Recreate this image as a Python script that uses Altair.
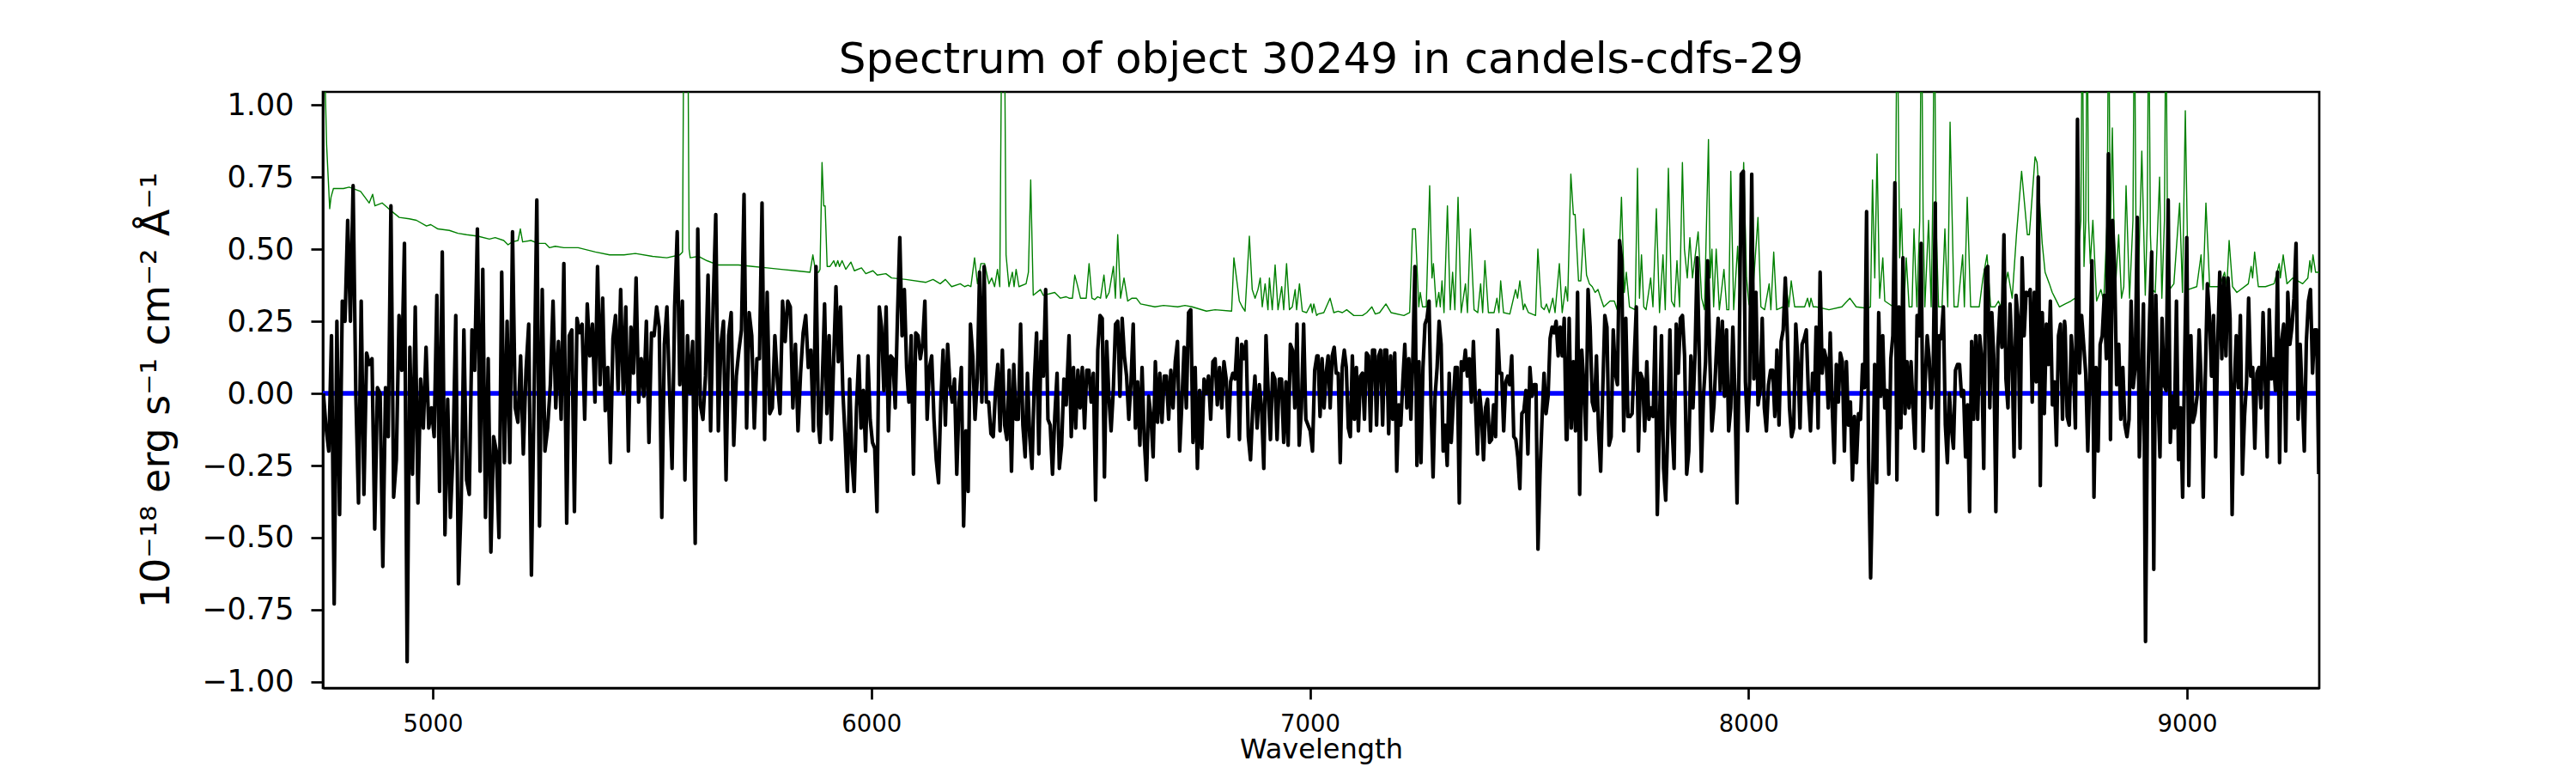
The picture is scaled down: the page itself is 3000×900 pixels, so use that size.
import numpy as np
import pandas as pd
import altair as alt

# ---------------- data ----------------
# Observed flux (black), 1e-18 erg/s/cm2/A, in hundredths, per wavelength segment
seg_ranges = [(4750.6, 5298.9), (5305.4, 5879.7), (5883.0, 6444.3), (6450.8, 7016.0),
              (7018.6, 7584.5), (7586.4, 8151.0), (8154.2, 8720.7), (8722.0, 9300.3)]

flux_s1 = [0,-12,-20,20,-73,25,-42,32,25,60, 25,72,0,-38,32,-35,14,10,12,-47,
           2,0,-60,2,-15,65,-36,-23,27,8, 52,-93,16,-28,30,-38,5,-12,16,-12,
           -5,-15,34,-34,49,-49,-2,-43,-20,27, -66,-38,22,-30,-35,22,8,57,-27,43,
           -43,12,-55,-15,-20,-50,42,-24,25,-24, 56,-5,-10,13,-21,8,24,-63,0,67,
           -46,36,-20,-12,3,32,-5,18,-9,45]
flux_s2 = [-45,20,22,-41,26,21,24,-9,31,13, 24,-3,44,3,33,-6,9,-24,19,27,
           1,36,0,30,-20,23,7,40,-3,12, -1,25,-17,21,20,30,23,-43,17,30,
           1,-26,30,56,3,32,-30,20,0,18, -52,57,-4,-9,6,41,-13,31,62,-13,
           17,25,-30,20,28,-18,6,15,22,69, -12,28,20,-12,12,12,66,-16,35,-7,
           -5,20,4,-7,32,18,32,30,-5,17, -13,7,21,27,9,15,-13,44,-11]
flux_s3 = [-17,4,31,-7,20,-16,12,37,11,30, 1,-15,-34,5,-23,-34,-5,13,-12,1,
           -20,13,-9,-17,-19,-41,30,23,1,30, -13,13,12,-5,27,54,20,36,9,-3,
           20,-28,21,20,12,17,32,-9,9,13, -9,-23,-31,-3,15,-11,17,3,-3,5,
           -28,-3,9,-46,-13,-34,24,13,-9,5, 42,-3,44,-3,-3,-14,-15,1,10,-13,
           15,-11,-16,8,-27,10,-9,-9,24,-11, -22,7,-15,-26,4,21,-21,18,6,36,
           -9,-11,-28,-8,7,-26,-18,5,-4]
flux_s4 = [20,-15,9,-12,8,-5,9,-12,8,8, -3,7,-37,15,27,26,-29,18,-1,-13,
           1,24,25,-1,26,13,6,-9,4,24, -12,4,-18,9,-16,-30,-1,-8,-22,11,
           -10,7,-10,6,6,-9,8,-5,11,18, -20,-3,16,-5,28,29,-17,9,-26,1,
           -19,5,0,6,-9,11,12,-4,9,-5, 11,5,-15,4,7,5,19,-16,17,12,
           18,-15,-23,-5,6,-12,3,-5,-26,20, 0,-16,7,5,-16,5,5,-17,4,-18,
           17,15,-5,24,-18,-5,24,-9,-11,-13, -20,8,13]
flux_s5 = [13,-8,12,-5,7,13,-5,13,16,7, 7,-24,9,15,9,-12,-15,13,-9,9,
           -13,6,7,-9,14,13,-13,15,15,-11, 13,15,-11,15,15,-14,13,-9,14,-27,
           -4,-11,4,17,-5,12,-9,13,44,-25, 11,-24,9,24,26,32,-4,-29,-1,9,
           25,17,-20,-11,-25,7,-17,-3,9,9, -38,11,8,15,6,12,-3,18,-3,-21,
           1,-7,-23,-5,-2,-17,-16,-4,-15,22, 7,7,-13,4,6,3,13,-15,-16,-22,
           -33,-7,-6,1,-21,9,-1,3,3,-54, -28,-9,7,-7,-1,19,23,21,25,13,
           23,13,26,-16]
flux_s6 = [-16,26,-12,11,-13,35,-35,15,3,-16, 36,23,-3,-6,13,-13,-27,1,27,23,
           -18,-15,22,7,3,53,46,-13,26,-8, -8,-7,12,30,-20,7,5,-13,11,-9,
           -5,-8,23,-42,-12,20,-26,-37,-12,22, -11,-26,24,7,26,27,13,-28,-20,13,
           -5,14,47,13,-27,-1,11,46,13,-13, -4,12,26,1,25,-1,22,-13,-5,23,
           0,-38,12,76,77,4,-13,4,76,5, 35,-4,1,26,-5,-13,3,8,8,-8,
           15,-11,18,22,40,20,-5,-15,-12,24, 11,-12,17,19,22,0,-13,7,1]
flux_s7 = [23,-12,42,7,15,12,-5,21,-5,-24, 10,-3,14,11,-20,11,-11,-3,-30,-8,
           -24,-7,-9,10,2,63,-23,-64,-31,10, -31,28,-1,20,-5,1,-28,12,20,73,
           -30,30,-12,47,-7,11,-5,11,-5,-19, 27,20,52,-20,4,20,12,-5,9,66,
           -42,20,19,30,-11,-24,0,-12,-19,8, 10,10,-1,1,-22,-4,-41,18,-9,20,
           -9,20,12,-26,43,44,-5,28,12,-41, 16,30,16,55,5,-5,31,14,-22,34,
           26,-19,47,20,35,34,36,-3,35,4, 75,-32,28,-7,24,10,32,-4,4,-18,
           20,24,-9,25]
flux_s8 = [23,-8,-11,20,9,-12,95,7,27,17, 7,-20,7,46,-36,9,-20,17,20,34,
           12,83,-16,60,44,3,17,-9,9,-11, -15,-9,32,2,9,61,-22,1,31,-86,
           0,27,49,-61,34,0,-22,26,3,1, 67,-17,-1,-12,32,-23,-5,-36,13,54,
           -32,20,-10,-7,-1,22,4,-36,6,38, 27,6,27,-22,18,42,12,40,13,40,
           26,-42,2,20,2,27,-28,-8,4,33, 6,9,-19,7,9,-5,28,6,-22,29,
           5,12,1,42,-24,18,24,-20,35,17, 23,33,52,-9,17,-1,-20,18,32,36,
           7,22,22,-28]
flux_segments = [flux_s1, flux_s2, flux_s3, flux_s4, flux_s5, flux_s6, flux_s7, flux_s8]

# Noise spectrum (green): (wavelength, value) pairs
noise_a = [(4750, 1.6), (4755, 1.05), (4758, 0.86), (4765, 0.64), (4768, 0.68), (4773.5, 0.71),
           (4796.3, 0.71), (4809.4, 0.715), (4835.5, 0.70), (4855.1, 0.66), (4862.9, 0.69),
           (4868.1, 0.65), (4884.5, 0.66), (4907.3, 0.63), (4923.6, 0.61), (4946.5, 0.605),
           (4962.8, 0.60), (4985.6, 0.58), (4995.4, 0.585), (5011.7, 0.57), (5037.8, 0.565),
           (5057.4, 0.555), (5077.0, 0.55), (5103.1, 0.545), (5129.2, 0.535), (5142.3, 0.54),
           (5161.9, 0.53), (5171.6, 0.515), (5181.4, 0.525), (5194.5, 0.53), (5199.7, 0.57),
           (5204.9, 0.525), (5223.9, 0.53), (5240.2, 0.52), (5256.5, 0.52), (5266.3, 0.505),
           (5279.3, 0.51), (5298.9, 0.505)]
noise_b = [(5305.4, 0.505), (5331.5, 0.505), (5370.7, 0.49), (5403.3, 0.48), (5435.9, 0.48),
           (5462.0, 0.485), (5501.2, 0.475), (5533.8, 0.47), (5563.2, 0.48), (5569.5, 0.49),
           (5572.0, 1.2), (5577.0, 1.6), (5582.0, 1.2), (5584.5, 0.5), (5587.0, 0.47),
           (5605.6, 0.475), (5625.2, 0.46), (5651.3, 0.445), (5697.0, 0.445), (5729.6, 0.44),
           (5762.3, 0.435), (5794.9, 0.43), (5827.5, 0.425), (5860.2, 0.42), (5866.7, 0.48),
           (5873.2, 0.42), (5879.8, 0.42)]
noise_c = [(5883.0, 0.43), (5887.6, 0.80), (5891.5, 0.65), (5894.7, 0.65), (5899.3, 0.44),
           (5905.8, 0.44), (5914.3, 0.46), (5918.9, 0.44), (5923.5, 0.46), (5927.4, 0.44),
           (5933.3, 0.46), (5941.7, 0.43), (5953.5, 0.455), (5961.3, 0.425), (5977.6, 0.435),
           (5987.4, 0.415), (6003.7, 0.425), (6013.5, 0.41), (6033.1, 0.415), (6046.2, 0.40),
           (6078.8, 0.395), (6124.5, 0.385), (6140.8, 0.395), (6157.1, 0.38), (6168.9, 0.395),
           (6183.2, 0.37), (6202.8, 0.38), (6212.6, 0.37), (6220.4, 0.375), (6227.0, 0.37),
           (6235.4, 0.47), (6242.0, 0.38), (6249.8, 0.45), (6258.3, 0.45), (6268.1, 0.38),
           (6274.6, 0.40), (6281.1, 0.37), (6287.7, 0.43), (6292.9, 0.37), (6297.4, 1.3),
           (6300.7, 1.5), (6304.0, 1.2), (6307.2, 0.48), (6313.8, 0.37), (6321.6, 0.42),
           (6325.5, 0.37), (6330.1, 0.43), (6336.6, 0.37), (6352.9, 0.38), (6358.2, 0.42),
           (6363.4, 0.74), (6369.2, 0.34), (6385.6, 0.36), (6392.1, 0.34), (6418.2, 0.35),
           (6431.3, 0.33), (6444.3, 0.335)]
noise_d = [(6450.8, 0.33), (6458.6, 0.33), (6463.9, 0.41), (6469.1, 0.38), (6476.9, 0.33),
           (6490.0, 0.33), (6496.5, 0.45), (6503.0, 0.33), (6509.5, 0.325), (6516.1, 0.335),
           (6522.6, 0.33), (6530.4, 0.41), (6535.6, 0.33), (6542.2, 0.35), (6552.0, 0.44),
           (6556.5, 0.33), (6561.8, 0.55), (6568.3, 0.33), (6576.1, 0.40), (6584.6, 0.32),
           (6594.4, 0.33), (6604.2, 0.33), (6614.0, 0.31), (6646.6, 0.30), (6666.2, 0.305),
           (6698.8, 0.30), (6715.1, 0.305), (6731.4, 0.30), (6764.1, 0.285), (6783.7, 0.29),
           (6821.5, 0.285), (6826.7, 0.47), (6832.6, 0.40), (6839.1, 0.32), (6845.7, 0.30),
           (6852.2, 0.285), (6862.0, 0.545), (6868.5, 0.36), (6875.0, 0.33), (6881.6, 0.36),
           (6886.8, 0.40), (6891.4, 0.30), (6897.9, 0.38), (6904.4, 0.29), (6907.7, 0.40),
           (6914.2, 0.29), (6920.7, 0.445), (6927.3, 0.29), (6935.7, 0.37), (6940.3, 0.29),
           (6946.8, 0.45), (6953.4, 0.29), (6959.9, 0.30), (6966.4, 0.36), (6969.7, 0.29),
           (6976.2, 0.38), (6982.7, 0.285), (6992.5, 0.28), (7002.3, 0.31), (7005.6, 0.28),
           (7008.9, 0.31), (7015.4, 0.27)]
noise_e = [(7018.6, 0.275), (7031.7, 0.28), (7046.0, 0.33), (7054.5, 0.28), (7064.3, 0.285),
           (7074.1, 0.28), (7083.9, 0.29), (7100.2, 0.27), (7119.8, 0.27), (7129.6, 0.28),
           (7141.3, 0.30), (7149.1, 0.275), (7158.9, 0.28), (7173.3, 0.31), (7185.0, 0.28),
           (7214.4, 0.27), (7227.5, 0.28), (7234.0, 0.57), (7240.5, 0.57), (7248.3, 0.30),
           (7251.6, 0.35), (7256.8, 0.30), (7265.3, 0.30), (7273.1, 0.72), (7278.4, 0.40),
           (7281.6, 0.45), (7288.2, 0.30), (7294.0, 0.35), (7297.3, 0.30), (7301.2, 0.39),
           (7305.8, 0.28), (7313.6, 0.65), (7320.1, 0.29), (7325.4, 0.42), (7330.6, 0.29),
           (7337.8, 0.68), (7344.9, 0.28), (7354.7, 0.38), (7359.3, 0.28), (7365.8, 0.57),
           (7374.3, 0.29), (7382.8, 0.28), (7389.3, 0.38), (7393.9, 0.28), (7399.1, 0.46),
           (7407.0, 0.28), (7420.0, 0.28), (7426.5, 0.33), (7431.1, 0.28), (7435.0, 0.39),
           (7441.5, 0.28), (7455.9, 0.275), (7468.9, 0.36), (7473.5, 0.33), (7478.7, 0.39),
           (7486.6, 0.29), (7489.8, 0.31), (7498.3, 0.28), (7514.6, 0.27), (7519.8, 0.50),
           (7527.7, 0.30), (7534.2, 0.29), (7539.4, 0.31), (7545.9, 0.28), (7553.8, 0.33),
           (7559.0, 0.28), (7568.8, 0.45), (7575.3, 0.28), (7583.2, 0.37), (7587.7, 0.32),
           (7595.0, 0.76)]
noise_f = [(7600.8, 0.62), (7604.7, 0.62), (7612.5, 0.39), (7617.7, 0.39), (7624.3, 0.57),
           (7630.8, 0.41), (7637.3, 0.38), (7643.8, 0.37), (7650.4, 0.35), (7656.9, 0.36),
           (7663.4, 0.33), (7670.0, 0.30), (7684.3, 0.32), (7694.1, 0.32), (7700.6, 0.29),
           (7710.4, 0.68), (7717.0, 0.35), (7721.5, 0.42), (7728.7, 0.30), (7741.7, 0.29),
           (7747.0, 0.78), (7751.5, 0.33), (7756.1, 0.48), (7761.3, 0.30), (7766.5, 0.29),
           (7770.5, 0.33), (7777.0, 0.40), (7782.2, 0.30), (7790.0, 0.64), (7797.2, 0.28),
           (7805.1, 0.48), (7810.3, 0.29), (7817.4, 0.78), (7824.6, 0.32), (7831.2, 0.30),
           (7837.0, 0.46), (7842.9, 0.30), (7849.4, 0.80), (7854.0, 0.50), (7860.5, 0.40),
           (7866.4, 0.54), (7872.3, 0.40), (7885.3, 0.56), (7893.2, 0.33), (7899.7, 0.29),
           (7908.8, 0.88), (7912.7, 0.40), (7916.7, 0.50), (7920.6, 0.30), (7926.4, 0.50),
           (7933.6, 0.29), (7944.1, 0.43), (7950.6, 0.29), (7955.2, 0.29), (7959.7, 0.77),
           (7966.3, 0.29), (7975.4, 0.51), (7980.0, 0.33), (7989.1, 0.80), (7995.6, 0.40),
           (8000.9, 0.31), (8007.4, 0.29), (8021.7, 0.61), (8028.3, 0.30), (8036.8, 0.29),
           (8047.2, 0.38), (8051.1, 0.29), (8057.6, 0.49), (8064.2, 0.29), (8079.2, 0.30),
           (8085.7, 0.38), (8092.2, 0.30), (8097.5, 0.39), (8105.3, 0.30), (8128.1, 0.30),
           (8134.7, 0.33), (8139.2, 0.30), (8142.5, 0.33), (8147.7, 0.30)]
noise_g = [(8154.2, 0.30), (8183.6, 0.29), (8212.9, 0.30), (8231.2, 0.33), (8245.6, 0.30),
           (8271.7, 0.295), (8278.2, 0.30), (8282.8, 0.74), (8288.0, 0.40), (8293.2, 0.83),
           (8299.1, 0.33), (8306.3, 0.47), (8310.8, 0.32), (8330.4, 0.30), (8335.6, 0.7),
           (8338.9, 1.4), (8342.2, 0.9), (8344.8, 0.47), (8348.7, 0.64), (8354.6, 0.30),
           (8359.8, 0.47), (8366.3, 0.30), (8372.9, 0.30), (8377.4, 0.57), (8384.0, 0.30),
           (8390.5, 0.6), (8394.4, 1.4), (8398.3, 0.6), (8402.2, 0.30), (8410.7, 0.60),
           (8416.6, 0.30), (8420.5, 0.7), (8423.8, 1.4), (8427.7, 0.6), (8433.5, 0.30),
           (8441.4, 0.30), (8447.9, 0.57), (8454.4, 0.30), (8459.7, 0.94), (8468.8, 0.30),
           (8477.3, 0.30), (8488.4, 0.48), (8492.3, 0.30), (8498.8, 0.68), (8506.6, 0.30),
           (8526.2, 0.30), (8534.7, 0.40), (8543.9, 0.48), (8552.3, 0.30), (8562.1, 0.30),
           (8570.0, 0.32), (8575.2, 0.30), (8591.5, 0.42), (8601.3, 0.33), (8611.1, 0.55),
           (8622.8, 0.77), (8635.9, 0.55), (8640.5, 0.55), (8653.5, 0.82), (8658.1, 0.80),
           (8669.8, 0.52), (8676.4, 0.42), (8686.1, 0.38), (8692.7, 0.35), (8699.2, 0.33),
           (8709.0, 0.30), (8722.0, 0.31)]
noise_h = [(8735.1, 0.32), (8744.8, 0.33), (8757.9, 0.6), (8761.2, 1.4), (8765.1, 0.44),
           (8769.0, 0.6), (8772.3, 1.4), (8775.5, 0.6), (8779.4, 0.45), (8785.3, 0.60),
           (8793.8, 0.32), (8803.6, 0.36), (8810.1, 0.32), (8817.9, 0.6), (8821.2, 1.4),
           (8825.1, 0.55), (8829.7, 0.92), (8836.2, 0.35), (8844.1, 0.55), (8850.6, 0.33),
           (8855.8, 0.37), (8861.0, 0.72), (8868.9, 0.33), (8876.7, 0.6), (8880.0, 1.4),
           (8883.9, 0.5), (8888.4, 0.35), (8896.9, 0.84), (8904.8, 0.34), (8909.3, 0.6),
           (8912.6, 1.4), (8916.5, 0.55), (8921.1, 0.36), (8927.6, 0.35), (8937.4, 0.75),
           (8942.6, 0.33), (8948.5, 0.6), (8951.8, 1.4), (8955.7, 0.5), (8960.2, 0.36),
           (8970.0, 0.38), (8983.1, 0.66), (8989.6, 0.35), (8996.1, 0.98), (9002.7, 0.36),
           (9022.2, 0.37), (9032.0, 0.48), (9036.6, 0.36), (9043.1, 0.66), (9051.6, 0.37),
           (9074.4, 0.37), (9085.5, 0.42), (9090.8, 0.37), (9096.0, 0.53), (9103.8, 0.37),
           (9113.6, 0.35), (9139.7, 0.38), (9146.2, 0.44), (9149.5, 0.40), (9154.1, 0.49),
           (9162.6, 0.37), (9178.9, 0.37), (9198.5, 0.38), (9210.2, 0.45), (9212.8, 0.40),
           (9219.3, 0.48), (9227.8, 0.38), (9240.9, 0.40), (9263.7, 0.38), (9275.5, 0.40),
           (9280.1, 0.46), (9283.3, 0.42), (9287.2, 0.48), (9293.1, 0.42), (9301.5, 0.42)]
noise_parts = [noise_a, noise_b, noise_c, noise_d, noise_e, noise_f, noise_g, noise_h]

# Model / continuum (blue) at zero
model_wave = [4749.4, 9301.5]
model_flux = [0.0, 0.0]

x_ticks = [5000, 6000, 7000, 8000, 9000]
y_ticks = [-1.0, -0.75, -0.5, -0.25, 0.0, 0.25, 0.5, 0.75, 1.0]
x_domain = [4749.4, 9301.5]
y_domain = [-1.021, 1.045]

title_text = "Spectrum of object 30249 in candels-cdfs-29"
x_title = "Wavelength"
y_title = "10\u207b\u00b9\u2078 erg s\u207b\u00b9 cm\u207b\u00b2 \u00c5\u207b\u00b9"

# ---------------- tables ----------------
waves, fluxes = [], []
for (w0, w1), vals in zip(seg_ranges, flux_segments):
    waves.append(np.linspace(w0, w1, len(vals)))
    fluxes.append(np.array(vals, dtype=float) / 100.0)
black_df = pd.DataFrame({"wave": np.concatenate(waves), "flux": np.concatenate(fluxes)})

green_pts = [p for part in noise_parts for p in part]
green_df = pd.DataFrame({"wave": [p[0] for p in green_pts], "flux": [p[1] for p in green_pts]})
blue_df = pd.DataFrame({"wave": model_wave, "flux": model_flux})

FONT = "DejaVu Sans"
xs = alt.Scale(domain=x_domain, nice=False, zero=False)
ys = alt.Scale(domain=y_domain, nice=False, zero=False)

xaxis = alt.Axis(values=x_ticks, format="d", title=x_title, grid=False,
                 labelFontSize=27.5, tickSize=13, labelPadding=15.5,
                 titleFontSize=32, titlePadding=0, labelFlush=False, labelOverlap=False)
yaxis = alt.Axis(values=y_ticks, format=".2f", title=y_title, grid=False,
                 labelFontSize=35, tickSize=14, labelPadding=20,
                 titleFontSize=46, titlePadding=28, labelFlush=False, labelOverlap=False)

def enc(ch):
    return ch.encode(x=alt.X("wave:Q", scale=xs, axis=xaxis),
                     y=alt.Y("flux:Q", scale=ys, axis=yaxis))

green = enc(alt.Chart(green_df).mark_line(color="green", strokeWidth=1.4, clip=True,
                                           strokeJoin="round"))
blue = enc(alt.Chart(blue_df).mark_line(color="blue", strokeWidth=5.5, clip=True))
black = enc(alt.Chart(black_df).mark_line(color="black", strokeWidth=4.2, clip=True,
                                           strokeJoin="round"))

chart = alt.layer(green, blue, black).properties(
    width=2325, height=694,
    title=alt.TitleParams(text=title_text, fontSize=50, font=FONT, fontWeight="normal",
                          color="black", anchor="middle", offset=10),
    autosize=alt.AutoSizeParams(type="none"),
    padding={"left": 368, "top": 99, "right": 291, "bottom": 91},
).configure(font=FONT).configure_view(
    stroke="black", strokeWidth=2.7
).configure_axis(
    labelFont=FONT, titleFont=FONT, titleFontWeight="normal",
    labelColor="black", titleColor="black", tickColor="black", domainColor="black",
    tickWidth=2.7, domainWidth=2.7
)

chart.save("out.html", embed_options={"renderer": "svg", "actions": False})
